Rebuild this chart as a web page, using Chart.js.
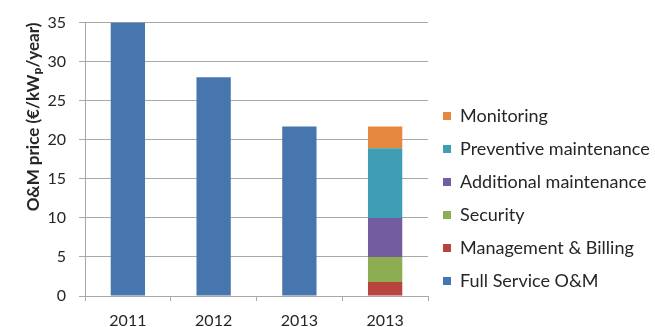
<!DOCTYPE html>
<html>
<head>
<meta charset="utf-8">
<script src="https://cdn.jsdelivr.net/npm/chart.js@4/dist/chart.umd.min.js"></script>
<style>
  html, body { margin: 0; padding: 0; background: #ffffff; }
  #wrap { position: relative; width: 655px; height: 327px; }
</style>
</head>
<body>
<div id="wrap"><canvas id="chart" width="655" height="327"></canvas></div>
<script>
// O&M price breakdown, €/kWp/year
const categories = ['2011', '2012', '2013', '2013'];
const fullServiceOM = [35, 28, 21.7, null];
const managementBilling = [null, null, null, 1.8];
const security = [null, null, null, 3.2];
const additionalMaintenance = [null, null, null, 5.0];
const preventiveMaintenance = [null, null, null, 8.9];
const monitoring = [null, null, null, 2.8];
const yTicks = [0, 5, 10, 15, 20, 25, 30, 35];

const FONT = 'Lato, "Open Sans", "DejaVu Sans", sans-serif';
const TEXT = '#262626';
const GRID = '#a8a8a8';

const series = [
  { label: 'Full Service O&M', data: fullServiceOM, color: '#4775AE' },
  { label: 'Management & Billing', data: managementBilling, color: '#B8433F' },
  { label: 'Security', data: security, color: '#8DAD52' },
  { label: 'Additional maintenance', data: additionalMaintenance, color: '#735C9F' },
  { label: 'Preventive maintenance', data: preventiveMaintenance, color: '#3F9DB4' },
  { label: 'Monitoring', data: monitoring, color: '#E5873F' }
];

// keep the legend column at a fixed width so the plot area stays put
const legendWidthPlugin = {
  id: 'legendWidth',
  beforeInit(chart) {
    const legend = chart.legend;
    if (!legend) return;
    const fit = legend.fit;
    legend.fit = function () {
      fit.call(this);
      this.width = 227;
    };
  }
};

new Chart(document.getElementById('chart'), {
  type: 'bar',
  data: {
    labels: categories,
    datasets: series.map(s => ({
      label: s.label,
      data: s.data,
      backgroundColor: s.color,
      borderWidth: 0,
      barPercentage: 0.4,
      categoryPercentage: 1.0
    }))
  },
  options: {
    responsive: false,
    animation: false,
    layout: { padding: { top: 18, left: 0, right: 0, bottom: 0 } },
    plugins: {
      tooltip: { enabled: false },
      legend: {
        position: 'right',
        reverse: true,
        title: { display: true, text: ' ', font: { family: FONT, size: 15 }, padding: 17 },
        labels: {
          boxWidth: 8,
          boxHeight: 8,
          padding: 15,
          color: TEXT,
          font: { family: FONT, size: 18 }
        }
      }
    },
    scales: {
      x: {
        stacked: true,
        afterFit(scale) { scale.height = 31; },
        border: { display: true, color: GRID, width: 1 },
        grid: {
          offset: true,
          drawOnChartArea: false,
          drawTicks: true,
          tickLength: 5,
          color: GRID
        },
        ticks: {
          color: TEXT,
          padding: 10,
          font: { family: FONT, size: 16 }
        }
      },
      y: {
        stacked: true,
        min: 0,
        max: 35,
        afterFit(scale) { scale.width = 85; },
        afterBuildTicks(scale) { scale.ticks = yTicks.map(v => ({ value: v })); },
        border: { display: true, color: GRID, width: 1 },
        grid: {
          color: GRID,
          drawTicks: true,
          tickLength: 6,
          lineWidth: 1
        },
        ticks: {
          color: TEXT,
          padding: 13,
          font: { family: FONT, size: 16 }
        },
        title: {
          display: true,
          text: 'O&M price (€/kWₚ/year)',
          align: 'end',
          color: TEXT,
          padding: { top: 23, bottom: 0 },
          font: { family: FONT, size: 17, weight: 'bold' }
        }
      }
    }
  },
  plugins: [legendWidthPlugin]
});
</script>
</body>
</html>
